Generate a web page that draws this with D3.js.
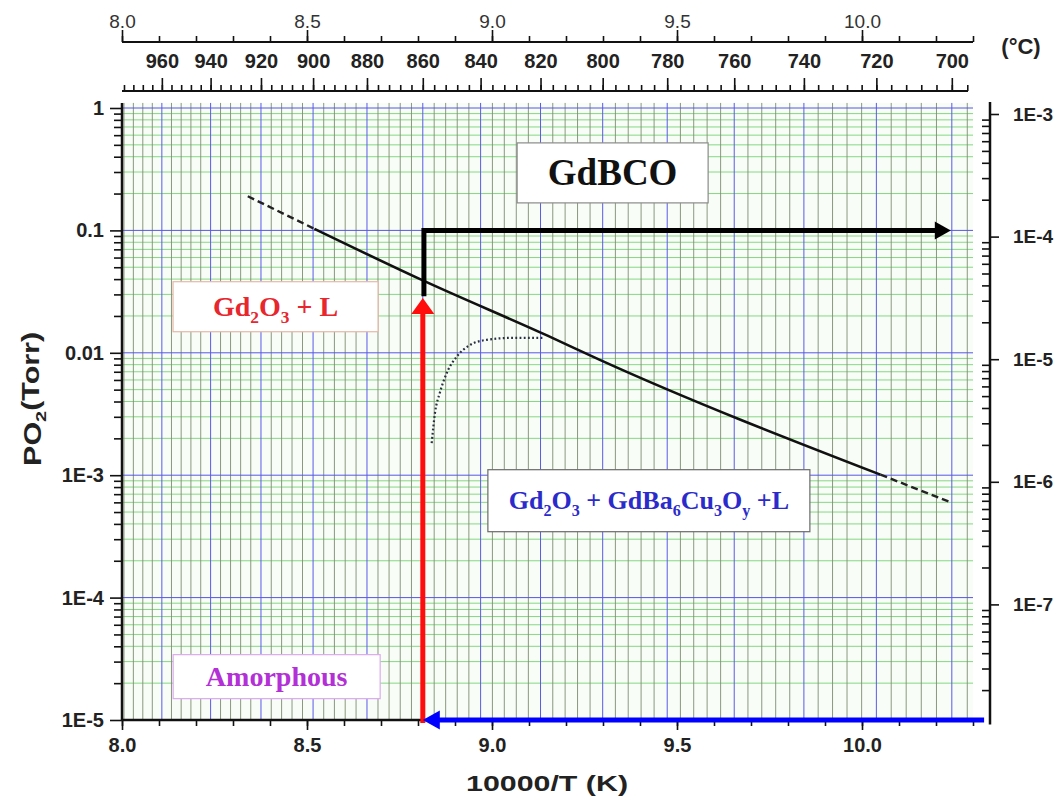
<!DOCTYPE html>
<html>
<head>
<meta charset="utf-8">
<script src="https://cdn.jsdelivr.net/npm/d3@7/dist/d3.min.js"></script>
<style>
  body { margin: 0; background: #fff; }
  text { font-family: "Liberation Sans", Arial, sans-serif; }
  .box text { font-family: "Liberation Serif", "Times New Roman", serif; font-weight: bold; }
</style>
</head>
<body>
<div id="chart"></div>
<script>
// tick values / labels
const xTicks = [8.0, 8.5, 9.0, 9.5, 10.0];
const xMinorTicks = [8.0, 8.1, 8.2, 8.3, 8.4, 8.5, 8.6, 8.7, 8.8, 8.9, 9.0, 9.1, 9.2, 9.3, 9.4,
                     9.5, 9.6, 9.7, 9.8, 9.9, 10.0, 10.1, 10.2, 10.3];
const tempTicks = [960, 940, 920, 900, 880, 860, 840, 820, 800, 780, 760, 740, 720, 700];
const tempMinorTicks = d3.range(976, 695, -4);
const yTicks = [1, 0.1, 0.01, 1e-3, 1e-4, 1e-5];
const yTickLabels = ["1", "0.1", "0.01", "1E-3", "1E-4", "1E-5"];
const rightTicks = [1e-3, 1e-4, 1e-5, 1e-6, 1e-7];
const rightTickLabels = ["1E-3", "1E-4", "1E-5", "1E-6", "1E-7"];

// phase boundary (10000/T, PO2)
const solidX = [8.52, 8.81, 9.15, 9.29, 10.05];
const solidY = [0.103, 0.0394, 0.0138, 0.0088, 0.00101];
const dashUpX = [8.34, 8.52];
const dashUpY = [0.19, 0.103];
const dashLowX = [10.05, 10.24];
const dashLowY = [0.00101, 0.0006];
const dotX = [8.837, 8.846, 8.859, 8.878, 8.905, 8.941, 8.986, 9.057, 9.138];
const dotY = [0.00183, 0.00324, 0.00471, 0.00687, 0.00933, 0.0116, 0.01277, 0.01325, 0.01325];

// process arrows
const redArrowX = [8.813, 8.813];
const redArrowY = [1e-5, 0.028];
const blackPathX = [8.816, 8.816, 10.24];
const blackPathY = [0.029, 0.1, 0.1];
const blueArrowX = [10.33, 8.813];
const blueArrowY = [1e-5, 1e-5];

// phase labels
const labelText = ["GdBCO", "Gd_2O_3 + L", "Amorphous", "Gd_2O_3 + GdBa_6Cu_3O_y +L"];
const labelX = [9.326, 8.415, 8.418, 9.424];
const labelY = [0.295, 0.0238, 2.26e-5, 6.19e-4];

const W = 1057, H = 798;
const svg = d3.select("#chart").append("svg")
    .attr("width", W)
    .attr("height", H);

// scales
const x = d3.scaleLinear().domain([8.0, 10.3]).range([122, 973]);
const y = d3.scaleLog().domain([1e-5, 1]).range([720, 108]);
const yR = d3.scaleLog().domain([1e-8, 1e-3]).range([727, 114]);
// the degC axis in the figure is drawn on a slightly different 10000/T scale
const xInv = d3.scaleLinear().domain([8.0, 10.3]).range([122, 960.6]);
function xT(T) { return xInv(10000 / (T + 273.15)); }
xT.domain = () => [977, 696];
xT.range = () => [122, 968];
xT.copy = () => xT;

const pTop = y(1.1), pBottom = y(1e-5), pLeft = x(8.0), pRight = x(10.3);

// plot background + grid
svg.append("rect")
    .attr("x", pLeft).attr("y", pTop)
    .attr("width", pRight - pLeft).attr("height", pBottom - pTop)
    .attr("fill", "#f8fdf7");

const minorLog = [];
for (let e = -5; e < 0; e++) {
    for (let m = 2; m <= 9; m++) minorLog.push(m * Math.pow(10, e));
}
const grid = svg.append("g");
grid.selectAll(".hminor")
    .data(minorLog)
    .enter().append("line")
    .attr("x1", pLeft).attr("x2", pRight)
    .attr("y1", d => y(d)).attr("y2", d => y(d))
    .attr("stroke", "#86d882").attr("stroke-width", 1);

grid.selectAll(".vminor")
    .data(tempMinorTicks.filter(t => t % 20 !== 0 && xT(t) <= pRight))
    .enter().append("line")
    .attr("x1", d => xT(d)).attr("x2", d => xT(d))
    .attr("y1", pTop).attr("y2", pBottom)
    .attr("stroke", "#7e8c72").attr("stroke-width", 0.9);

grid.selectAll(".hmajor")
    .data(yTicks)
    .enter().append("line")
    .attr("x1", pLeft).attr("x2", pRight)
    .attr("y1", d => y(d)).attr("y2", d => y(d))
    .attr("stroke", "#5656e6").attr("stroke-width", 1);

grid.selectAll(".vmajor")
    .data(tempMinorTicks.filter(t => t % 20 === 0 && xT(t) <= pRight))
    .enter().append("line")
    .attr("x1", d => xT(d)).attr("x2", d => xT(d))
    .attr("y1", pTop).attr("y2", pBottom)
    .attr("stroke", "#5a5ae8").attr("stroke-width", 1);

function styleAxis(g, size, weight, fill) {
    g.select(".domain").remove();
    g.selectAll(".tick line").attr("stroke", "#111").attr("stroke-width", 1.6);
    g.selectAll(".tick text")
        .style("font-size", size + "px")
        .style("font-weight", weight)
        .attr("fill", fill);
}

// bottom axis
svg.append("g").attr("transform", `translate(0,${pBottom})`)
    .call(d3.axisBottom(x).tickValues(xMinorTicks).tickSize(6).tickFormat(""))
    .call(g => styleAxis(g, 10, "normal", "#000"));
svg.append("g").attr("transform", `translate(0,${pBottom})`)
    .call(d3.axisBottom(x).tickValues(xTicks).tickSize(10).tickPadding(8).tickFormat(d3.format(".1f")))
    .call(g => styleAxis(g, 20, "bold", "#222"));
svg.append("line")
    .attr("x1", pLeft).attr("x2", pRight).attr("y1", pBottom).attr("y2", pBottom)
    .attr("stroke", "#111").attr("stroke-width", 2.5);

// left axis
svg.append("g").attr("transform", `translate(${pLeft},0)`)
    .call(d3.axisLeft(y).tickValues(minorLog).tickSize(8).tickFormat(""))
    .call(g => styleAxis(g, 10, "normal", "#000"));
svg.append("g").attr("transform", `translate(${pLeft},0)`)
    .call(d3.axisLeft(y).tickValues(yTicks).tickSize(12).tickPadding(6)
        .tickFormat((d, i) => yTickLabels[i]))
    .call(g => styleAxis(g, 20, "bold", "#222"));
svg.append("line")
    .attr("x1", pLeft).attr("x2", pLeft).attr("y1", pTop).attr("y2", pBottom + 1)
    .attr("stroke", "#111").attr("stroke-width", 2.5);

// top 10000/T axis
const topY = 42;
svg.append("g").attr("transform", `translate(0,${topY})`)
    .call(d3.axisTop(x).tickValues(xMinorTicks).tickSize(6).tickFormat(""))
    .call(g => styleAxis(g, 10, "normal", "#000"));
svg.append("g").attr("transform", `translate(0,${topY})`)
    .call(d3.axisTop(x).tickValues(xTicks).tickSize(12).tickPadding(2).tickFormat(d3.format(".1f")))
    .call(g => styleAxis(g, 19, "normal", "#333"));
svg.append("line")
    .attr("x1", pLeft).attr("x2", pRight).attr("y1", topY).attr("y2", topY)
    .attr("stroke", "#111").attr("stroke-width", 2);

// degC axis
const tY = 91;
svg.append("g").attr("transform", `translate(0,${tY})`)
    .call(d3.axisTop(xT).tickValues(tempMinorTicks).tickSize(6).tickFormat(""))
    .call(g => styleAxis(g, 10, "normal", "#000"));
svg.append("g").attr("transform", `translate(0,${tY})`)
    .call(d3.axisTop(xT).tickValues(tempTicks).tickSize(13).tickPadding(10).tickFormat(d3.format("d")))
    .call(g => styleAxis(g, 20, "bold", "#222"));
svg.append("line")
    .attr("x1", xT.range()[0]).attr("x2", xT.range()[1]).attr("y1", tY).attr("y2", tY)
    .attr("stroke", "#111").attr("stroke-width", 2);
svg.append("text")
    .attr("x", 1021).attr("y", 54)
    .attr("text-anchor", "middle")
    .style("font-size", "22px").style("font-weight", "bold")
    .attr("fill", "#222")
    .text("(°C)");

// right axis
const rX = 990;
const minorR = [];
for (let e = -8; e <= -4; e++) {
    for (let m = 2; m <= 9; m++) minorR.push(m * Math.pow(10, e));
}
svg.append("g").attr("transform", `translate(${rX},0)`)
    .call(d3.axisLeft(yR).tickValues(minorR).tickSize(8).tickFormat(""))
    .call(g => styleAxis(g, 10, "normal", "#000"));
svg.append("g").attr("transform", `translate(${rX},0)`)
    .call(d3.axisRight(yR).tickValues(rightTicks).tickSize(9).tickPadding(14)
        .tickFormat((d, i) => rightTickLabels[i]))
    .call(g => styleAxis(g, 19, "bold", "#222"));
svg.append("line")
    .attr("x1", rX).attr("x2", rX).attr("y1", yR(1.25e-3)).attr("y2", yR(1.05e-8))
    .attr("stroke", "#111").attr("stroke-width", 2.5);

// axis titles (the source fonts are stretched along the text)
svg.append("text")
    .attr("x", 547).attr("y", 791)
    .attr("text-anchor", "middle")
    .attr("textLength", 162).attr("lengthAdjust", "spacingAndGlyphs")
    .style("font-size", "22px").style("font-weight", "bold")
    .attr("fill", "#222")
    .text("10000/T (K)");

const yTitle = svg.append("text")
    .attr("transform", `translate(41,${y(0.0042)}) rotate(-90)`)
    .attr("text-anchor", "middle")
    .attr("textLength", 134).attr("lengthAdjust", "spacingAndGlyphs")
    .style("font-size", "23px").style("font-weight", "bold")
    .attr("fill", "#222");
yTitle.append("tspan").text("PO");
yTitle.append("tspan").attr("dy", "0.3em").style("font-size", "15px").text("2");
yTitle.append("tspan").attr("dy", "-0.3em").text("(Torr)");

// phase boundary
svg.append("path")
    .datum(d3.zip(solidX, solidY))
    .attr("d", d3.line().x(d => x(d[0])).y(d => y(d[1])).curve(d3.curveMonotoneX))
    .attr("fill", "none").attr("stroke", "#111").attr("stroke-width", 2.6);
svg.append("path")
    .datum(d3.zip(dashUpX, dashUpY))
    .attr("d", d3.line().x(d => x(d[0])).y(d => y(d[1])))
    .attr("fill", "none").attr("stroke", "#222").attr("stroke-width", 2.4)
    .attr("stroke-dasharray", "7,4");
svg.append("path")
    .datum(d3.zip(dashLowX, dashLowY))
    .attr("d", d3.line().x(d => x(d[0])).y(d => y(d[1])))
    .attr("fill", "none").attr("stroke", "#222").attr("stroke-width", 2.4)
    .attr("stroke-dasharray", "7,4");
svg.append("path")
    .datum(d3.zip(dotX, dotY))
    .attr("d", d3.line().x(d => x(d[0])).y(d => y(d[1])).curve(d3.curveMonotoneX))
    .attr("fill", "none").attr("stroke", "#2a2f40").attr("stroke-width", 2.2)
    .attr("stroke-dasharray", "1.8,2.4");

// phase labels
const boxW = [191, 205, 207, 322];
const boxH = [60, 50, 44, 62];
const boxFont = [37, 28, 28, 26];
const boxFill = ["#111", "#e8262d", "#b32fd6", "#2b2bcc"];
const boxStroke = ["#8a8a8a", "#e6b8a8", "#dcaaee", "#6a6a6a"];

labelText.forEach((txt, i) => {
    const cx = x(labelX[i]), cy = y(labelY[i]);
    const g = svg.append("g").attr("class", "box");
    g.append("rect")
        .attr("x", cx - boxW[i] / 2).attr("y", cy - boxH[i] / 2)
        .attr("width", boxW[i]).attr("height", boxH[i])
        .attr("fill", "#fff").attr("stroke", boxStroke[i]).attr("stroke-width", 1.2);
    const t = g.append("text")
        .attr("x", cx).attr("y", cy + boxFont[i] * 0.33)
        .attr("text-anchor", "middle")
        .style("font-size", boxFont[i] + "px")
        .attr("fill", boxFill[i]);
    let back = 0;   // pending shift back to the baseline after a subscript
    txt.split(/(_.)/).filter(s => s.length).forEach(s => {
        if (s[0] === "_") {
            t.append("tspan").attr("dy", (0.25 * boxFont[i] - back) + "px")
                .style("font-size", "62%").text(s[1]);
            back = 0.25 * boxFont[i];
        } else {
            t.append("tspan").attr("dy", (-back) + "px").text(s);
            back = 0;
        }
    });
});

// arrows
function head(tip, dx, dy, len, half) {
    // dx,dy = unit direction pointing to the tip
    const bx = tip[0] - dx * len, by = tip[1] - dy * len;
    return `M${tip[0]},${tip[1]}L${bx - dy * half},${by + dx * half}L${bx + dy * half},${by - dx * half}Z`;
}

// red (up)
const rTip = [x(redArrowX[1]), y(redArrowY[1])];
svg.append("line")
    .attr("x1", x(redArrowX[0])).attr("y1", y(redArrowY[0]) + 3)
    .attr("x2", rTip[0]).attr("y2", rTip[1] + 12)
    .attr("stroke", "#ff0d0d").attr("stroke-width", 5);
svg.append("path").attr("d", head(rTip, 0, -1, 16, 11.5)).attr("fill", "#ff0d0d");

// black (up then right)
const bPts = d3.zip(blackPathX, blackPathY).map(d => [x(d[0]), y(d[1])]);
const bTip = bPts[bPts.length - 1];
svg.append("path")
    .attr("d", d3.line()([bPts[0], bPts[1], [bTip[0] - 12, bTip[1]]]))
    .attr("fill", "none").attr("stroke", "#000").attr("stroke-width", 5)
    .attr("stroke-linejoin", "miter");
svg.append("path").attr("d", head(bTip, 1, 0, 16, 9)).attr("fill", "#000");

// blue (left)
const blTip = [x(blueArrowX[1]), y(blueArrowY[1])];
svg.append("line")
    .attr("x1", x(blueArrowX[0])).attr("y1", y(blueArrowY[0]))
    .attr("x2", blTip[0] + 14).attr("y2", blTip[1])
    .attr("stroke", "#0000ff").attr("stroke-width", 5);
svg.append("path").attr("d", head(blTip, -1, 0, 17, 9.5)).attr("fill", "#0000ff");
</script>
</body>
</html>
